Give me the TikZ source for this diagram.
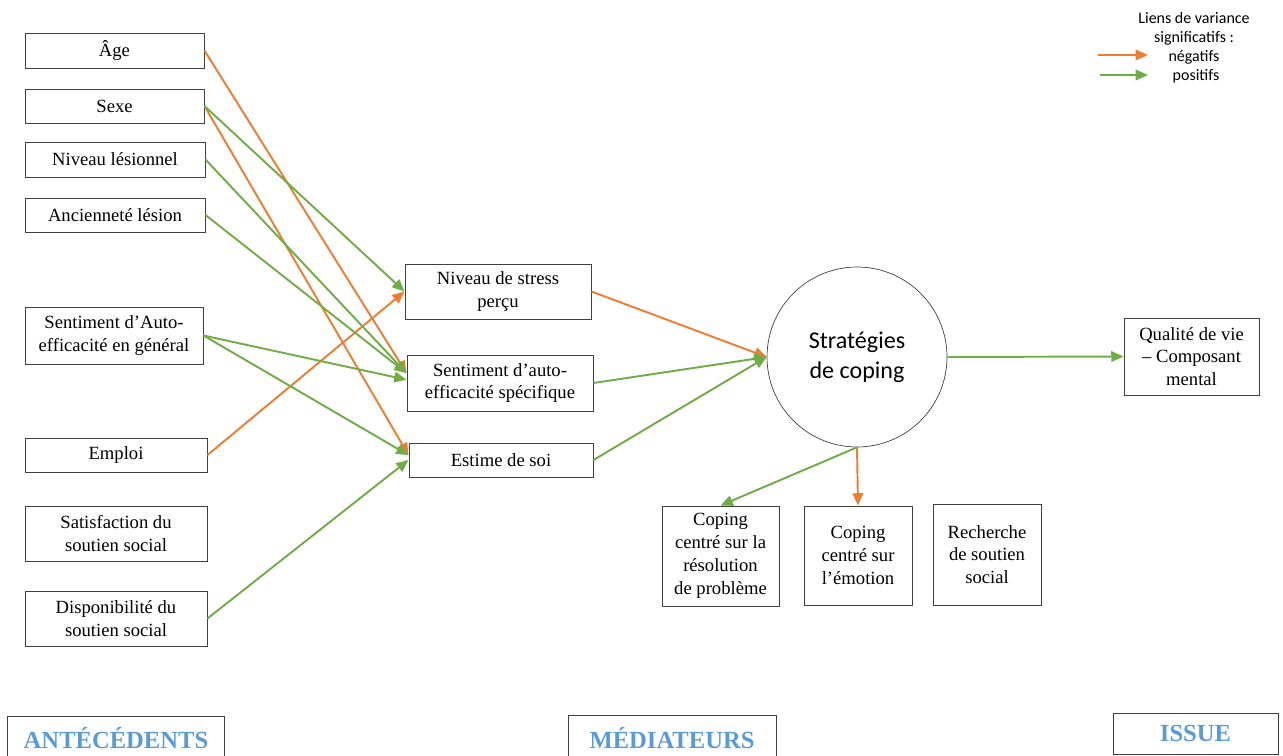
\documentclass[tikz,border=0pt]{standalone}
\usepackage{fontspec}
\setmainfont{Liberation Serif}
\newfontfamily\calibri{Carlito}
\usetikzlibrary{arrows.meta}
\definecolor{orneg}{HTML}{ED7D31}
\definecolor{grpos}{HTML}{70AD47}
\definecolor{titleblue}{HTML}{5B9BD5}
\definecolor{boxgray}{HTML}{404040}

\begin{document}
\begin{tikzpicture}[x=0.02cm, y=-0.02cm,
	box/.style={draw=boxgray, line width=0.55pt, align=center, inner sep=0pt, font=\fontsize{10.6}{13}\selectfont},
	phase/.style={draw=boxgray, line width=0.55pt, inner sep=0pt, text=titleblue, font=\bfseries\fontsize{14}{16}\selectfont},
	legend/.style={align=center, inner sep=0pt, font=\calibri\fontsize{9.1}{11}\selectfont},
	negarrow/.style={orneg, line width=1.1pt, -{Triangle[length=7pt, width=6pt]}},
	posarrow/.style={grpos, line width=1.1pt, -{Triangle[length=7pt, width=6pt]}}]
			
			\useasboundingbox (0,0) rectangle (1283,756);
			
			\node[box, minimum width=3.58cm, minimum height=0.70cm] (age) at (114.5,50.5) {Âge};
			\node[box, minimum width=3.58cm, minimum height=0.68cm] (sexe) at (114.5,106) {Sexe};
			\node[box, minimum width=3.6cm, minimum height=0.70cm] (niveau) at (115,159.5) {Niveau lésionnel};
			\node[box, minimum width=3.6cm, minimum height=0.68cm] (anciennete) at (115,215) {Ancienneté lésion};
			\node[box, minimum width=3.56cm, minimum height=1.14cm] (autoeffg) at (114,335.5) {Sentiment d’Auto-\\efficacité en général};
			\node[box, minimum width=3.64cm, minimum height=0.68cm] (emploi) at (116,455) {Emploi};
			\node[box, minimum width=3.64cm, minimum height=1.1cm] (satisf) at (116,533.5) {Satisfaction du\\soutien social};
			\node[box, minimum width=3.64cm, minimum height=1.1cm] (dispo) at (116,618.5) {Disponibilité du\\soutien social};
			
			\node[box, minimum width=3.72cm, minimum height=1.1cm] (stress) at (498,291.5) {Niveau de stress\\perçu};
			\node[box, minimum width=3.72cm, minimum height=1.12cm] (autoeffs) at (500,383) {Sentiment d’auto-\\efficacité spécifique};
			\node[box, minimum width=3.68cm, minimum height=0.68cm] (estime) at (501,460) {Estime de soi};
			
			\node[draw=boxgray, circle, minimum size=3.6cm, inner sep=0pt, align=center, font=\calibri\fontsize{13.7}{17}\selectfont] (coping) at (857,357) {Stratégies\\de coping};
			\node[box, minimum width=2.7cm, minimum height=1.54cm] (qdv) at (1191.5,356.5) {Qualité de vie\\– Composant\\mental};
			\node[box, minimum width=2.34cm, minimum height=2cm] (cprob) at (720.5,556) {Coping\\centré sur la\\résolution\\de problème};
			\node[box, minimum width=2.16cm, minimum height=1.98cm] (cemo) at (858,555.5) {Coping\\centré sur\\l’émotion};
			\node[box, minimum width=2.16cm, minimum height=2.02cm] (rech) at (987,554.5) {Recherche\\de soutien\\social};
			
			\node[phase, minimum width=4.36cm, minimum height=0.86cm] (ant) at (116,738) {ANTÉCÉDENTS};
			\node[phase, minimum width=4.16cm, minimum height=0.9cm] (med) at (672,738) {MÉDIATEURS};
			\node[phase, minimum width=3.3cm, minimum height=0.82cm] (issue) at (1195.5,733.5) {ISSUE};
			
			\node[legend] (legtitle) at (1194,29) {Liens de variance\\significatifs :};
			\node[legend] (legneg) at (1194,57) {négatifs};
			\node[legend] (legpos) at (1196,76) {positifs};
			\coordinate (negA) at (1098,55);
			\coordinate (negB) at (1148,55);
			\coordinate (posA) at (1100,75);
			\coordinate (posB) at (1148,75);
			\draw[negarrow] (negA) -- (negB);
			\draw[posarrow] (posA) -- (posB);
			
			\draw[negarrow] (age.east) -- (autoeffs.174);
			\draw[negarrow] (sexe.east) -- (estime.177);
			\draw[negarrow] (emploi.east) -- (stress.west);
			\draw[negarrow] (stress.east) -- (coping.west);
			\draw[negarrow] (coping.south) -- (cemo.north);
			\draw[posarrow] (sexe.east) -- (stress.west);
			\draw[posarrow] (niveau.east) -- (autoeffs.174);
			\draw[posarrow] (anciennete.east) -- (autoeffs.174);
			\draw[posarrow] (autoeffg.east) -- (autoeffs.178);
			\draw[posarrow] (autoeffg.east) -- (estime.177);
			\draw[posarrow] (dispo.east) -- (estime.west);
			\draw[posarrow] (autoeffs.east) -- (coping.west);
			\draw[posarrow] (estime.east) -- (coping.west);
			\draw[posarrow] (coping.east) -- (qdv.west);
			\draw[posarrow] (coping.south) -- (cprob.north);
			
		\end{tikzpicture}
\end{document}
